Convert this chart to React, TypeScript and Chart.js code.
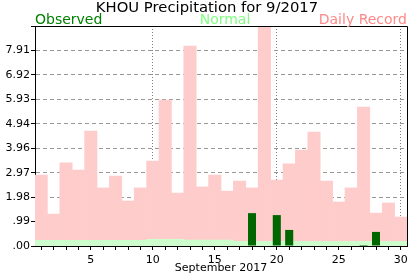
import React, { useEffect, useRef } from 'react';
import { Chart, registerables } from 'chart.js';

Chart.register(...registerables);

const TITLE = 'KHOU Precipitation for 9/2017';
const X_TITLE = 'September 2017';
const DAYS = ['1','2','3','4','5','6','7','8','9','10','11','12','13','14','15','16','17','18','19','20','21','22','23','24','25','26','27','28','29','30'];
const RECORD = [2.87,1.29,3.36,3.07,4.65,2.35,2.83,1.82,2.35,3.44,5.90,2.14,8.09,2.39,2.87,2.22,2.63,2.35,9.8,2.67,3.32,3.88,4.61,2.63,1.78,2.35,5.62,1.33,1.74,1.17];
const NORMAL = [0.23,0.23,0.23,0.23,0.23,0.23,0.23,0.23,0.23,0.27,0.27,0.27,0.24,0.24,0.24,0.24,0.19,0.19,0.19,0.19,0.19,0.19,0.19,0.19,0.19,0.19,0.19,0.19,0.19,0.19];
const OBSERVED = [0,0,0,0,0,0,0,0,0,0,0,0,0,0,0,0,0,1.33,0,1.25,0.65,0,0,0,0,0,0.04,0.57,0,0];
const Y_MAX = 8.9;
const Y_TICK_LABELS = ['.00','.99','1.98','2.97','3.96','4.94','5.93','6.92','7.91'];
const X_LABEL_EVERY = 5;
const X_GRID_EVERY = 10;

const FONT = '"DejaVu Sans", Verdana, sans-serif';

const headerPlugin = {
  id: 'header',
  afterDraw(chart: any) {
    const { ctx, chartArea } = chart;
    const { left, right, top, bottom } = chartArea;
    ctx.save();
    ctx.strokeStyle = '#000';
    ctx.lineWidth = 1;
    ctx.beginPath();
    ctx.moveTo(left, Math.floor(top) + 0.5);
    ctx.lineTo(Math.floor(right) + 0.5, Math.floor(top) + 0.5);
    ctx.lineTo(Math.floor(right) + 0.5, bottom);
    ctx.stroke();

    ctx.textBaseline = 'alphabetic';
    ctx.font = `14.8px ${FONT}`;
    ctx.fillStyle = '#000';
    ctx.textAlign = 'center';
    ctx.fillText(TITLE, 207, 12);
    ctx.font = `14px ${FONT}`;
    ctx.fillStyle = '#008000';
    ctx.textAlign = 'left';
    ctx.fillText('Observed', left, 24);
    ctx.fillStyle = '#80ff80';
    ctx.textAlign = 'center';
    ctx.fillText('Normal', 225, 24);
    ctx.fillStyle = '#ff8888';
    ctx.textAlign = 'right';
    ctx.fillText('Daily Record', right, 24);
    ctx.restore();
  },
};

export default function App() {
  const ref = useRef<HTMLCanvasElement>(null);

  useEffect(() => {
    if (!ref.current) return;
    const chart = new Chart(ref.current, {
      type: 'bar',
      data: {
        labels: DAYS,
        datasets: [
          {
            label: 'Observed',
            data: OBSERVED,
            backgroundColor: '#006600',
            barPercentage: 0.65,
            categoryPercentage: 1,
            grouped: false,
            order: 0,
            borderWidth: 0,
          },
          {
            label: 'Normal',
            data: NORMAL,
            backgroundColor: '#ccffcc',
            barPercentage: 1,
            categoryPercentage: 1,
            grouped: false,
            order: 1,
            borderWidth: 0,
          },
          {
            label: 'Daily Record',
            data: RECORD,
            backgroundColor: '#ffcccc',
            barPercentage: 1,
            categoryPercentage: 1,
            grouped: false,
            order: 2,
            borderWidth: 0,
          },
        ] as any,
      },
      options: {
        animation: false,
        responsive: false,
        maintainAspectRatio: false,
        layout: { padding: { top: 26, right: 10, left: 0, bottom: 0 } },
        plugins: {
          legend: { display: false },
          tooltip: { enabled: false },
          title: { display: false },
        },
        scales: {
          x: {
            type: 'category',
            offset: true,
            afterFit: (s: any) => { s.height = 30; },
            grid: {
              offset: false,
              color: (c: any) => ((c.index + 1) % X_GRID_EVERY === 0 ? '#808080' : 'rgba(0,0,0,0)'),
              tickColor: '#000',
              tickLength: 4,
              lineWidth: 1,
            },
            border: { display: true, color: '#000', width: 1, dash: [1, 2] },
            ticks: {
              autoSkip: false,
              maxRotation: 0,
              padding: 4,
              color: '#000',
              font: { family: FONT, size: 11 },
              callback: (_v: any, i: number) => ((i + 1) % X_LABEL_EVERY === 0 ? DAYS[i] : ''),
            },
            title: {
              display: true,
              text: X_TITLE,
              color: '#000',
              font: { family: FONT, size: 11 },
              padding: { top: 0, bottom: 1 },
            },
          },
          y: {
            type: 'linear',
            min: 0,
            max: Y_MAX,
            afterFit: (s: any) => { s.width = 35; },
            afterBuildTicks: (s: any) => {
              const n = Y_TICK_LABELS.length;
              const t: any[] = [];
              for (let i = 0; i <= n; i++) t.push({ value: (i * Y_MAX) / n });
              s.ticks = t;
            },
            grid: {
              color: (c: any) => (c.index === 0 || c.index === Y_TICK_LABELS.length ? 'rgba(0,0,0,0)' : '#999999'),
              tickColor: '#000',
              tickLength: 4,
              lineWidth: 1,
            },
            border: { display: true, color: '#000', width: 1, dash: [4, 3] },
            ticks: {
              padding: 1,
              color: '#000',
              font: { family: FONT, size: 11 },
              callback: (_v: any, i: number) => Y_TICK_LABELS[i] ?? '',
            },
          },
        },
      } as any,
      plugins: [headerPlugin],
    });
    return () => chart.destroy();
  }, []);

  return (
    <div style={{ position: 'absolute', left: 0, top: 0, width: 417, height: 276, background: '#fff' }}>
      <canvas ref={ref} width={417} height={276} />
    </div>
  );
}
